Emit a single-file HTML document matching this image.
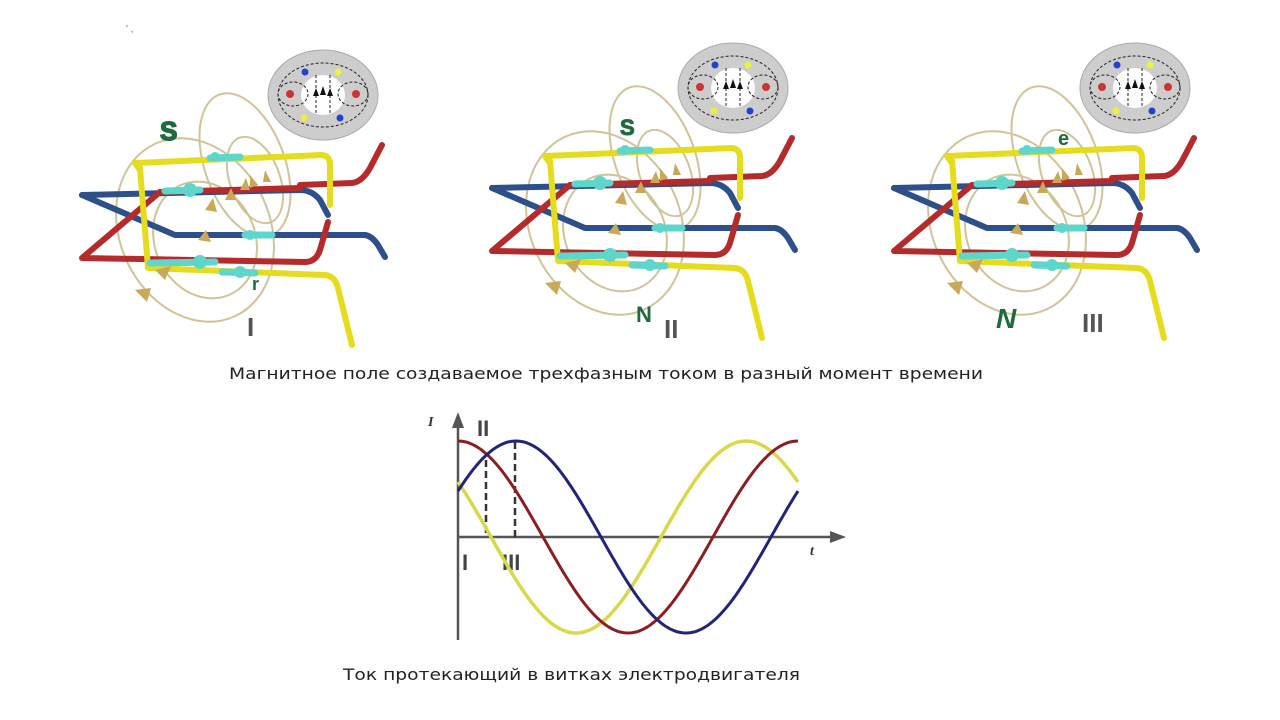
<!DOCTYPE html>
<html><head><meta charset="utf-8"><style>
html,body{margin:0;padding:0;background:#fff;width:1280px;height:720px;overflow:hidden}
svg{display:block}
</style></head><body>
<svg id="s" width="1280" height="720" viewBox="0 0 1280 720" xmlns="http://www.w3.org/2000/svg" font-family="Liberation Sans, sans-serif">
<defs>
<g id="coil">
  <g fill="none" stroke="#cfc398" stroke-width="2">
    <ellipse cx="195" cy="230" rx="75" ry="95" transform="rotate(-25 195 230)"/>
    <ellipse cx="205" cy="240" rx="50" ry="60" transform="rotate(-25 205 240)"/>
    <ellipse cx="245" cy="165" rx="40" ry="75" transform="rotate(-20 245 165)"/>
    <ellipse cx="255" cy="180" rx="25" ry="45" transform="rotate(-20 255 180)"/>
  </g>
  <g fill="none" stroke-linecap="round" stroke-linejoin="round">
    <path d="M300 185 L352 183 Q362 182 370 168 L382 145" stroke="#b52a2a" stroke-width="6"/>
    <path d="M82 195 L300 190 Q312 190 320 200 L328 215" stroke="#2d4f8a" stroke-width="6"/>
    <path d="M82 195 L175 235 L365 235 Q372 236 378 245 L385 257" stroke="#2d4f8a" stroke-width="6"/>
    <path d="M160 192 L300 188" stroke="#b52a2a" stroke-width="6"/>
    <path d="M160 192 L82 258 L305 262 Q316 262 320 250 L328 222" stroke="#b52a2a" stroke-width="6"/>
    <path d="M140 170 L135 163 L322 155 Q330 156 330 165 L330 205" stroke="#e6dc1e" stroke-width="6"/>
    <path d="M140 168 L148 268 L325 275 Q335 276 338 288 L352 345" stroke="#e6dc1e" stroke-width="6"/>
  </g>
  <g stroke="#5fd6cc" stroke-width="7" stroke-linecap="round">
    <line x1="165" y1="191" x2="200" y2="190"/>
    <line x1="150" y1="263" x2="215" y2="262"/>
    <line x1="210" y1="158" x2="240" y2="157"/>
    <line x1="245" y1="235" x2="272" y2="235"/>
    <line x1="222" y1="272" x2="255" y2="273"/>
  </g>
  <g fill="#5fd6cc"><circle cx="190" cy="190" r="7"/><circle cx="200" cy="262" r="7"/><circle cx="215" cy="157" r="5"/><circle cx="250" cy="235" r="5"/><circle cx="240" cy="272" r="6"/></g>
  <g fill="#c9a85a">
    <path d="M205 210 l8 -12 l4 14z"/><path d="M225 200 l6 -12 l5 12z"/><path d="M240 190 l6 -12 l4 12z"/>
    <path d="M250 175 l8 10 l-8 3z"/><path d="M265 170 l6 12 l-8 0z"/><path d="M198 240 l8 -10 l5 12z"/>
    <path d="M155 270 l16 -4 l-6 14z"/><path d="M135 290 l16 -2 l-4 14z"/>
  </g>
  <ellipse cx="323" cy="95" rx="55" ry="45" fill="#cdcdcd" stroke="#aaa"/>
  <ellipse cx="323" cy="95" rx="22" ry="20" fill="#fff"/>
  <g fill="none" stroke="#222" stroke-width="1" stroke-dasharray="3 2">
    <ellipse cx="293" cy="94" rx="15" ry="12"/><ellipse cx="353" cy="94" rx="15" ry="12"/>
    <ellipse cx="323" cy="95" rx="45" ry="32"/>
    <line x1="316" y1="75" x2="316" y2="115"/><line x1="330" y1="75" x2="330" y2="115"/>
  </g>
  <circle cx="290" cy="94" r="4" fill="#c33"/><circle cx="356" cy="94" r="4" fill="#c33"/>
  <circle cx="305" cy="72" r="3.5" fill="#24c"/><circle cx="340" cy="118" r="3.5" fill="#24c"/>
  <circle cx="338" cy="72" r="3.5" fill="#ee4"/><circle cx="304" cy="118" r="3.5" fill="#ee4"/>
  <g fill="#111"><path d="M316 88 l-3 8 h6z"/><path d="M323 86 l-3 9 h6z"/><path d="M330 88 l-3 8 h6z"/></g>
</g>
</defs>
<text x="126" y="32" font-size="10" fill="#777">' ,</text>
<use href="#coil"/>
<use href="#coil" transform="translate(410 -7)"/>
<use href="#coil" transform="translate(812 -7)"/>
<g fill="#1f6a3e" font-weight="bold" font-family="Liberation Sans, sans-serif">
  <text x="160" y="140" font-size="26" stroke="#1f6a3e" stroke-width="1.5">S</text>
  <text x="252" y="290" font-size="18">r</text>
  <text x="620" y="135" font-size="22" stroke="#1f6a3e" stroke-width="1">S</text>
  <text x="636" y="322" font-size="22">N</text>
  <text x="1058" y="145" font-size="20">e</text>
  <text x="996" y="328" font-size="28" font-style="italic">N</text>
</g>
<g fill="#555" font-weight="bold" font-size="26">
  <text x="247" y="336">I</text>
  <text x="664" y="338">II</text>
  <text x="1082" y="332">III</text>
</g>
<text x="229" y="379" font-size="16" font-family="DejaVu Sans, sans-serif" textLength="754" lengthAdjust="spacingAndGlyphs" fill="#222">Магнитное поле создаваемое трехфазным током в разный момент времени</text>
<g stroke="#555" stroke-width="2.5" fill="none">
  <line x1="458" y1="640" x2="458" y2="420"/>
  <line x1="458" y1="537" x2="835" y2="537"/>
</g>
<path d="M452 428 L458 412 L464 428z" fill="#555"/>
<path d="M830 531 L846 537 L830 543z" fill="#555"/>
<text x="428" y="426" font-size="14" font-style="italic" font-weight="bold" fill="#333" font-family="Liberation Serif, serif">I</text>
<text x="810" y="555" font-size="14" font-style="italic" font-weight="bold" fill="#333" font-family="Liberation Serif, serif">t</text>
<g stroke="#333" stroke-width="2.5" stroke-dasharray="7 4"><line x1="486" y1="460" x2="486" y2="537"/><line x1="515" y1="442" x2="515" y2="537"/></g>
<g fill="#444" font-weight="bold" font-size="22">
  <text x="477" y="436">II</text><text x="462" y="570">I</text><text x="502" y="570">III</text>
</g>
<path id="py" fill="none" stroke="#d9d84a" stroke-width="3.5"/>
<path id="pr" fill="none" stroke="#8b1e22" stroke-width="3"/>
<path id="pb" fill="none" stroke="#23237a" stroke-width="3"/>
<text x="343" y="680" font-size="16" font-family="DejaVu Sans, sans-serif" textLength="457" lengthAdjust="spacingAndGlyphs" fill="#222">Ток протекающий в витках электродвигателя</text>
</svg>
<script>
function mk(id,peak){var d="";for(var x=458;x<=799;x+=2){var y=537-96*Math.cos(2*Math.PI*(x-peak)/340);d+=(x==458?"M":"L")+x+" "+y.toFixed(1)+" ";}document.getElementById(id).setAttribute("d",d);}
mk("py",746);mk("pr",458);mk("pb",516);
</script>
</body></html>
